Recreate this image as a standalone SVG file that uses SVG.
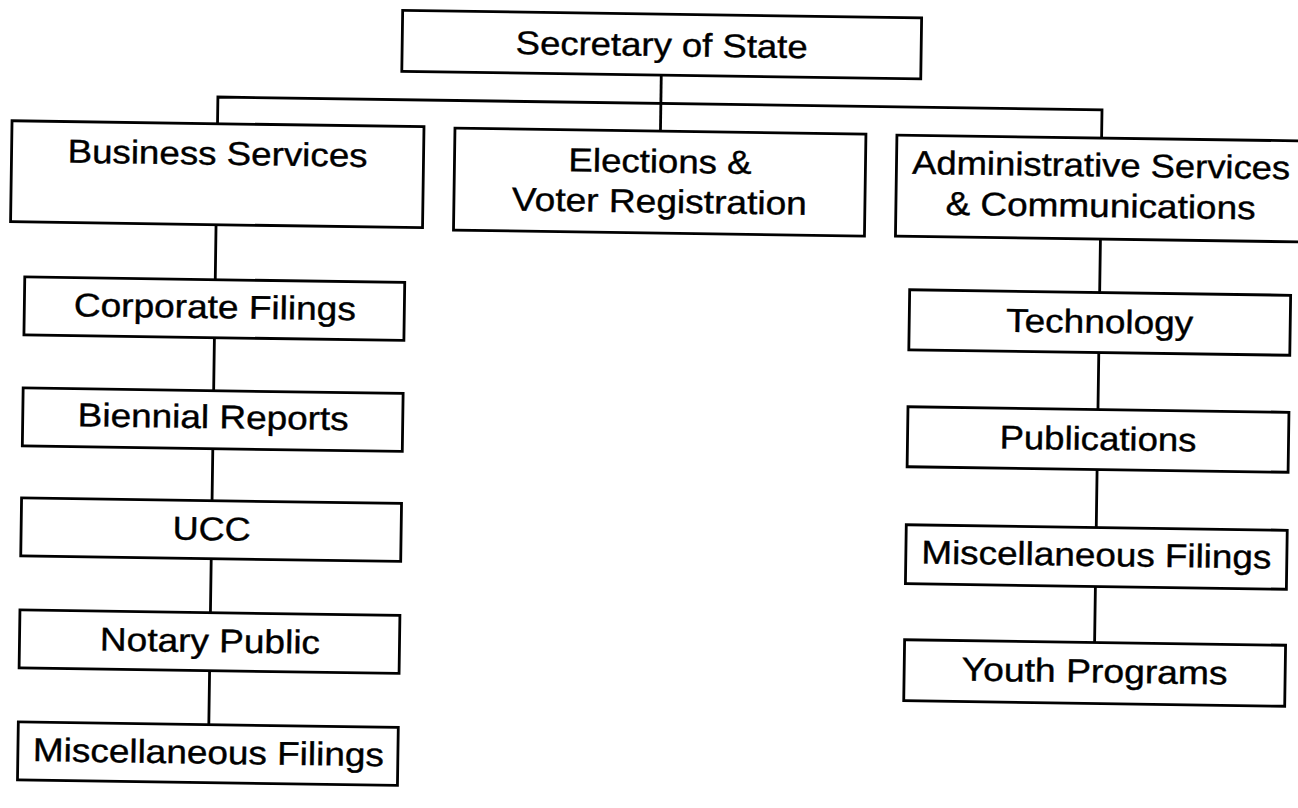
<svg xmlns="http://www.w3.org/2000/svg" width="1298" height="808" viewBox="0 0 1298 808">
  <style>
    .box { fill: #ffffff; stroke: #000000; stroke-width: 2.8; }
    .conn { fill: none; stroke: #000000; stroke-width: 2.8; }
    .lbl { font-family: "Liberation Sans", Arial, sans-serif; font-size: 33px; text-anchor: middle; fill: #000000; stroke: #000000; stroke-width: 0.4; }
  </style>
  <rect width="1298" height="808" fill="#ffffff"/>
  <g transform="rotate(0.83 649 404)">
    <g id="connectors">
      <path class="conn" d="M656.5,75 V131"/>
      <path class="conn" d="M213.5,130 V103.3 H1097.7 V131.5"/>
      <path class="conn" d="M213.5,231 V286 M213.5,344 V397 M213.5,455 V507 M213.5,565 V619 M213.5,677 V731"/>
      <path class="conn" d="M1098,232.5 V286 M1098,346 V403 M1098,463 V521 M1098,580 V636"/>
    </g>
    <g id="secretary">
      <rect class="box" x="397" y="14" width="519" height="61"/>
      <text class="lbl" x="656.5" y="56" textLength="292" lengthAdjust="spacingAndGlyphs">Secretary of State</text>
    </g>
    <g id="business">
      <rect class="box" x="8" y="130" width="412" height="101"/>
      <text class="lbl" x="214" y="171" textLength="300" lengthAdjust="spacingAndGlyphs">Business Services</text>
    </g>
    <g id="elections">
      <rect class="box" x="451" y="131" width="411" height="102"/>
      <text class="lbl" x="656.5" y="172.5" textLength="183" lengthAdjust="spacingAndGlyphs">Elections &amp;</text>
      <text class="lbl" x="656.5" y="212.5" textLength="295" lengthAdjust="spacingAndGlyphs">Voter Registration</text>
    </g>
    <g id="admin">
      <rect class="box" x="893" y="131.5" width="410" height="101"/>
      <text class="lbl" x="1097.7" y="170" textLength="378" lengthAdjust="spacingAndGlyphs">Administrative Services</text>
      <text class="lbl" x="1097.7" y="210.5" textLength="310" lengthAdjust="spacingAndGlyphs">&amp; Communications</text>
    </g>
    <g id="corporate-filings">
      <rect class="box" x="23" y="286" width="380" height="58"/>
      <text class="lbl" x="213.5" y="324.5" textLength="282" lengthAdjust="spacingAndGlyphs">Corporate Filings</text>
    </g>
    <g id="biennial-reports">
      <rect class="box" x="23" y="397" width="380" height="58"/>
      <text class="lbl" x="213.5" y="434.5" textLength="271" lengthAdjust="spacingAndGlyphs">Biennial Reports</text>
    </g>
    <g id="ucc">
      <rect class="box" x="23" y="507" width="380" height="58"/>
      <text class="lbl" x="213.5" y="546.5" textLength="78" lengthAdjust="spacingAndGlyphs">UCC</text>
    </g>
    <g id="notary-public">
      <rect class="box" x="23" y="619" width="380" height="58"/>
      <text class="lbl" x="213.5" y="658.5" textLength="220" lengthAdjust="spacingAndGlyphs">Notary Public</text>
    </g>
    <g id="misc-filings-left">
      <rect class="box" x="23" y="731" width="380" height="58"/>
      <text class="lbl" x="213.5" y="770" textLength="351" lengthAdjust="spacingAndGlyphs">Miscellaneous Filings</text>
    </g>
    <g id="technology">
      <rect class="box" x="908" y="286" width="381" height="60"/>
      <text class="lbl" x="1098.5" y="326.5" textLength="187" lengthAdjust="spacingAndGlyphs">Technology</text>
    </g>
    <g id="publications">
      <rect class="box" x="908" y="403" width="381" height="60"/>
      <text class="lbl" x="1098.5" y="443.5" textLength="197" lengthAdjust="spacingAndGlyphs">Publications</text>
    </g>
    <g id="misc-filings-right">
      <rect class="box" x="908" y="521" width="381" height="59"/>
      <text class="lbl" x="1098.5" y="559.5" textLength="350" lengthAdjust="spacingAndGlyphs">Miscellaneous Filings</text>
    </g>
    <g id="youth-programs">
      <rect class="box" x="908" y="636" width="381" height="61"/>
      <text class="lbl" x="1098.5" y="676" textLength="266" lengthAdjust="spacingAndGlyphs">Youth Programs</text>
    </g>
  </g>
</svg>
